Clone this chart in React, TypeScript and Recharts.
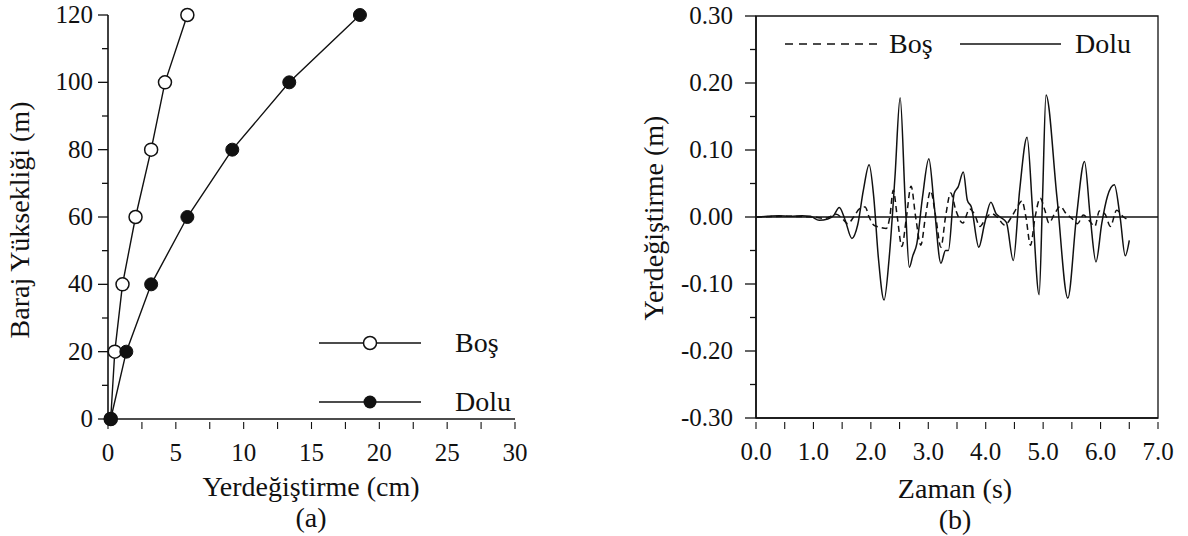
import React from "react";
import { LineChart, Line, XAxis, YAxis, ReferenceLine, ReferenceArea, Legend } from "recharts";

const FONT = '"Liberation Serif", "Times New Roman", serif';
const INK = "#111";

// (a) displacement along dam height
const heightM = [0, 20, 40, 60, 80, 100, 120];
const bosCm = [0.2, 0.5, 1.07, 2.03, 3.18, 4.2, 5.85];
const doluCm = [0.2, 1.35, 3.18, 5.85, 9.16, 13.36, 18.57];
const cmTicks = [0, 2.5, 5, 7.5, 10, 12.5, 15, 17.5, 20, 22.5, 25, 27.5, 30];
const heightTicks = [0, 10, 20, 30, 40, 50, 60, 70, 80, 90, 100, 110, 120];

// (b) crest displacement time history
const doluT = [
  0, 0.2, 0.4, 0.6, 0.8, 0.95, 1.1, 1.25, 1.35, 1.45, 1.55, 1.67, 1.77, 1.87, 1.97,
  2.05, 2.13, 2.23, 2.32, 2.42, 2.51, 2.6, 2.67, 2.73, 2.8, 2.9, 3.01, 3.1, 3.22,
  3.3, 3.35, 3.45, 3.52, 3.61, 3.68, 3.75, 3.88, 3.98, 4.09, 4.18, 4.25, 4.36, 4.48,
  4.59, 4.72, 4.82, 4.93, 4.99, 5.05, 5.24, 5.43, 5.58, 5.72, 5.82, 5.92,
  6.02, 6.12, 6.24, 6.34, 6.43, 6.5,
];
const doluV = [
  0, 0.001, 0.002, 0.001, 0.002, 0.001, -0.005, -0.003, 0.002, 0.014, -0.004, -0.032, -0.012, 0.04, 0.078,
  0.03, -0.06, -0.124, -0.06, 0.06, 0.178, 0.02, -0.075, -0.058, -0.04, 0.03, 0.087, 0.02, -0.069,
  -0.05, -0.05, 0.035, 0.045, 0.067, 0.025, 0.015, -0.045, -0.01, 0.022, 0.005, 0, -0.008, -0.065,
  0.039, 0.119, 0.005, -0.116, 0.03, 0.182, 0.03, -0.121, 0, 0.083, 0, -0.067,
  -0.01, 0.031, 0.048, 0, -0.058, -0.035,
];
const bosT = [
  0, 0.5, 1.0, 1.2, 1.4, 1.5, 1.6, 1.7, 1.8, 1.9, 1.97, 2.05, 2.15, 2.27, 2.33, 2.39, 2.46,
  2.54, 2.62, 2.7, 2.78, 2.87, 2.95, 3.04, 3.13, 3.22, 3.3, 3.39, 3.48, 3.6, 3.72, 3.8, 3.9,
  4.0, 4.1, 4.2, 4.33, 4.45, 4.55, 4.63, 4.7, 4.78, 4.86, 4.95, 5.03, 5.1, 5.2, 5.3, 5.4,
  5.5, 5.6, 5.7, 5.8, 5.9, 5.98, 6.08, 6.17, 6.28, 6.4, 6.5,
];
const bosV = [
  0, 0.001, 0, -0.002, 0.004, -0.002, -0.01, 0, 0.012, 0.015, 0, -0.012, -0.015, -0.017, 0, 0.04, 0,
  -0.044, 0, 0.046, 0, -0.042, 0, 0.039, 0, -0.045, 0, 0.036, 0.01, -0.009, 0.012, 0.005, -0.014,
  -0.002, 0.005, 0, -0.012, 0, 0.015, 0.024, 0, -0.042, 0, 0.028, 0.01, -0.009, 0.005, 0.016, 0.005,
  -0.002, -0.01, 0.003, -0.005, -0.014, 0.009, 0.004, -0.014, 0.01, 0, -0.005,
];
const timeTicks = [0, 0.5, 1, 1.5, 2, 2.5, 3, 3.5, 4, 4.5, 5, 5.5, 6, 6.5, 7];
const dispTicks = [
  -0.3, -0.25, -0.2, -0.15, -0.1, -0.05, 0, 0.05, 0.1, 0.15, 0.2, 0.25, 0.3,
];

const bosProfile = heightM.map((h, i) => ({ x: bosCm[i], y: h }));
const doluProfile = heightM.map((h, i) => ({ x: doluCm[i], y: h }));
const bosHistory = bosT.map((t, i) => ({ t, v: bosV[i] }));
const doluHistory = doluT.map((t, i) => ({ t, v: doluV[i] }));

const tickText = {
  fontSize: 25,
  fill: INK,
  style: { fontFamily: FONT, fontSize: 25 },
};

function HeightTick({ x, y, payload }: any) {
  const major = payload.value % 20 === 0;
  return (
    <g>
      <line x1={x - (major ? 10 : 6)} x2={x} y1={y} y2={y} stroke={INK} strokeWidth={1.3} />
      {major && (
        <text x={x - 15} y={y + 8} textAnchor="end" {...tickText}>
          {payload.value}
        </text>
      )}
    </g>
  );
}

function CmTick({ x, y, payload }: any) {
  const major = payload.value % 5 === 0;
  return (
    <g>
      <line x1={x} x2={x} y1={y + 3} y2={y + 10} stroke={INK} strokeWidth={1.1} />
      {major && (
        <text x={x} y={y + 42} textAnchor="middle" {...tickText}>
          {payload.value}
        </text>
      )}
    </g>
  );
}

function DispTick({ x, y, payload }: any) {
  const major = Math.round(payload.value * 100) % 10 === 0;
  return (
    <g>
      <line x1={x - (major ? 11 : 6)} x2={x} y1={y} y2={y} stroke={INK} strokeWidth={1.3} />
      {major && (
        <text x={x - 23} y={y + 8} textAnchor="end" {...tickText}>
          {payload.value.toFixed(2)}
        </text>
      )}
    </g>
  );
}

function TimeTick({ x, y, payload }: any) {
  const major = Number.isInteger(payload.value);
  return (
    <g>
      <line x1={x} x2={x} y1={y + 4} y2={y + 11} stroke={INK} strokeWidth={1.1} />
      {major && (
        <text x={x} y={y + 42} textAnchor="middle" {...tickText}>
          {payload.value.toFixed(1)}
        </text>
      )}
    </g>
  );
}

const legendText = { fontSize: 28, fill: INK, style: { fontFamily: FONT, fontSize: 28 } };

function ProfileLegend() {
  return (
    <svg width={200} height={100}>
      <line x1={0} x2={102} y1={20} y2={20} stroke={INK} strokeWidth={1.4} />
      <circle cx={51} cy={20} r={6.5} fill="#fff" stroke={INK} strokeWidth={1.5} />
      <text x={136} y={29} {...legendText}>Boş</text>
      <line x1={0} x2={102} y1={79} y2={79} stroke={INK} strokeWidth={1.4} />
      <circle cx={51} cy={79} r={6.5} fill={INK} />
      <text x={136} y={88} {...legendText}>Dolu</text>
    </svg>
  );
}

function HistoryLegend() {
  return (
    <svg width={360} height={40}>
      <line x1={0} x2={92} y1={20} y2={20} stroke={INK} strokeWidth={1.4} strokeDasharray="8 6" />
      <text x={104} y={29} {...legendText}>Boş</text>
      <line x1={175} x2={276} y1={20} y2={20} stroke={INK} strokeWidth={1.4} />
      <text x={290} y={29} {...legendText}>Dolu</text>
    </svg>
  );
}

const caption = (left: number, top: number, text: string, rotate = false) => (
  <div
    style={{
      position: "absolute",
      left,
      top,
      transform: `translate(-50%, -50%)${rotate ? " rotate(-90deg)" : ""}`,
      whiteSpace: "nowrap",
      fontFamily: FONT,
      fontSize: 28,
      lineHeight: 1,
      color: INK,
    }}
  >
    {text}
  </div>
);

export default function App() {
  return (
    <div style={{ position: "fixed", left: 0, top: 0, width: 1188, height: 536, background: "#fff", overflow: "hidden" }}>
      <div style={{ position: "absolute", left: 0, top: 0 }}>
        <LineChart width={540} height={536} margin={{ top: 15, right: 25, bottom: 87, left: 48 }}>
          <XAxis
            type="number"
            dataKey="x"
            domain={[0, 30]}
            ticks={cmTicks}
            interval={0}
            height={30}
            tickSize={0}
            tickMargin={0}
            tickLine={false}
            tick={<CmTick />}
            axisLine={{ stroke: INK, strokeWidth: 1.6 }}
          />
          <YAxis
            type="number"
            dataKey="y"
            domain={[0, 120]}
            ticks={heightTicks}
            interval={0}
            width={60}
            tickSize={0}
            tickMargin={0}
            tickLine={false}
            tick={<HeightTick />}
            axisLine={{ stroke: INK, strokeWidth: 1.6 }}
          />
          <Legend
            layout="horizontal"
            verticalAlign="middle"
            align="center"
            content={<ProfileLegend />}
            wrapperStyle={{ position: "absolute", left: 319, top: 323, width: 200, height: 100 }}
          />
          <Line
            data={bosProfile}
            dataKey="y"
            type="linear"
            stroke={INK}
            strokeWidth={1.4}
            dot={{ r: 6.5, fill: "#fff", stroke: INK, strokeWidth: 1.5 }}
            activeDot={false}
            isAnimationActive={false}
          />
          <Line
            data={doluProfile}
            dataKey="y"
            type="linear"
            stroke={INK}
            strokeWidth={1.4}
            dot={{ r: 6.5, fill: INK, stroke: INK, strokeWidth: 1 }}
            activeDot={false}
            isAnimationActive={false}
          />
        </LineChart>
      </div>

      <div style={{ position: "absolute", left: 600, top: 0 }}>
        <LineChart width={588} height={536} margin={{ top: 16, right: 30, bottom: 88, left: 76 }}>
          <XAxis
            type="number"
            dataKey="t"
            domain={[0, 7]}
            ticks={timeTicks}
            interval={0}
            height={30}
            tickSize={0}
            tickMargin={0}
            tickLine={false}
            tick={<TimeTick />}
            axisLine={{ stroke: INK, strokeWidth: 1.6 }}
          />
          <YAxis
            type="number"
            dataKey="v"
            domain={[-0.3, 0.3]}
            ticks={dispTicks}
            interval={0}
            width={80}
            tickSize={0}
            tickMargin={0}
            tickLine={false}
            tick={<DispTick />}
            axisLine={{ stroke: INK, strokeWidth: 1.6 }}
          />
          <ReferenceArea x1={0} x2={7} y1={-0.3} y2={0.3} fill="none" stroke={INK} strokeWidth={1.3} />
          <ReferenceLine y={0} stroke={INK} strokeWidth={1.3} />
          <Legend
            layout="horizontal"
            verticalAlign="middle"
            align="center"
            content={<HistoryLegend />}
            wrapperStyle={{ position: "absolute", left: 185, top: 24, width: 360, height: 40 }}
          />
          <Line
            data={bosHistory}
            dataKey="v"
            type="monotone"
            stroke={INK}
            strokeWidth={1.5}
            strokeDasharray="6 4"
            dot={false}
            activeDot={false}
            isAnimationActive={false}
          />
          <Line
            data={doluHistory}
            dataKey="v"
            type="monotone"
            stroke={INK}
            strokeWidth={1.5}
            dot={false}
            activeDot={false}
            isAnimationActive={false}
          />
        </LineChart>
      </div>

      {caption(20, 220, "Baraj Yüksekliği (m)", true)}
      {caption(311, 487, "Yerdeğiştirme (cm)")}
      {caption(311, 518, "(a)")}
      {caption(654, 218, "Yerdeğiştirme (m)", true)}
      {caption(955, 489, "Zaman (s)")}
      {caption(955, 520, "(b)")}
    </div>
  );
}
